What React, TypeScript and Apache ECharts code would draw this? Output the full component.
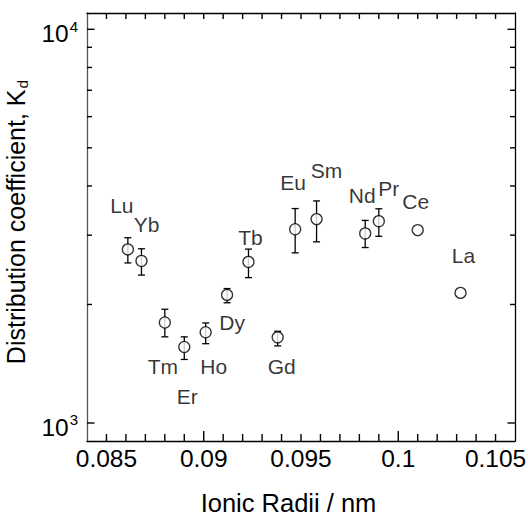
import React, { useEffect, useRef } from "react";
import * as echarts from "echarts";

// ---- data ----
const elements = ["Lu", "Yb", "Tm", "Er", "Ho", "Dy", "Tb", "Gd", "Eu", "Sm", "Nd", "Pr", "Ce", "La"];
const ionicRadii = [0.0861, 0.0868, 0.088, 0.089, 0.0901, 0.0912, 0.0923, 0.0938, 0.0947, 0.0958, 0.0983, 0.099, 0.101, 0.1032];
const kd = [2760, 2580, 1800, 1560, 1700, 2115, 2565, 1650, 3105, 3295, 3030, 3255, 3090, 2140];
const kdLow: (number | null)[] = [2550, 2375, 1655, 1450, 1590, 2020, 2340, 1570, 2705, 2885, 2790, 2980, null, null];
const kdHigh: (number | null)[] = [2955, 2770, 1945, 1655, 1795, 2195, 2765, 1710, 3505, 3665, 3270, 3500, null, null];

const xLabelValues = [0.085, 0.09, 0.095, 0.1, 0.105];
const xMajorTickValues = [0.09, 0.1];
const yLabelValues = [1000, 10000];
const yMinorTickValues = [2000, 3000, 4000, 5000, 6000, 7000, 8000, 9000];

// ---- layout (label offsets in px relative to each marker) ----
const labelOffsets: [number, number][] = [
  [-6, -44], [5, -36], [-2, 44], [3, 50], [8, 34], [5, 28], [2, -24],
  [4, 29], [-2, -47], [10, -49], [-3, -38], [10, -33], [-2, -29], [3, -37],
];

const FONT = "'Liberation Sans', Arial, sans-serif";
const X_MIN = 0.084;
const X_MAX = 0.106;
const Y_MIN = 900;
const Y_MAX = 11000;
const xMinorTicks = Array.from({ length: 21 }, (_, i) => +(X_MIN + (i + 1) * 0.001).toFixed(3));

export default function App() {
  const ref = useRef<HTMLDivElement>(null);
  useEffect(() => {
    if (!ref.current) return;
    const chart = echarts.init(ref.current, undefined, { renderer: "svg" });

    const scatterData = elements.map((name, i) => ({
      name,
      value: [ionicRadii[i], kd[i]],
      label: { offset: labelOffsets[i] },
    }));
    const errData = elements
      .map((_, i) => (kdLow[i] != null ? [ionicRadii[i], kdLow[i], kdHigh[i]] : null))
      .filter((d) => d != null);

    chart.setOption({
      animation: false,
      backgroundColor: "#fff",
      textStyle: { fontFamily: FONT },
      grid: { left: 87, right: 13, top: 13, bottom: 75, containLabel: false, outerBoundsMode: "none" },
      xAxis: [
        {
          type: "value",
          min: X_MIN,
          max: X_MAX,
          position: "bottom",
          splitLine: { show: false },
          axisLine: { show: true, lineStyle: { color: "#000", width: 1.3 } },
          axisTick: { show: false },
          axisLabel: {
            show: true,
            customValues: xLabelValues,
            formatter: (v: number) => String(parseFloat(v.toFixed(4))),
            fontSize: 24.5,
            color: "#000",
            margin: 5,
            fontFamily: FONT,
          },
          name: "Ionic Radii / nm",
          nameLocation: "middle",
          nameGap: 49,
          nameTextStyle: { fontSize: 25.5, color: "#000", fontFamily: FONT, padding: [0, 25, 0, 0] },
        },
        {
          type: "value",
          min: X_MIN,
          max: X_MAX,
          position: "top",
          splitLine: { show: false },
          axisLine: { show: true, lineStyle: { color: "#000", width: 1.3 } },
          axisTick: { show: false },
          axisLabel: { show: false },
        },
      ],
      yAxis: [
        {
          type: "log",
          logBase: 10,
          min: Y_MIN,
          max: Y_MAX,
          position: "left",
          splitLine: { show: false },
          axisLine: { show: true, lineStyle: { color: "#555", width: 1.3 } },
          axisTick: { show: false },
          axisLabel: {
            show: true,
            customValues: yLabelValues,
            margin: 9,
            formatter: (v: number) => `{b|10}{sup|${Math.round(Math.log10(v))}}`,
            rich: {
              b: { fontSize: 24.5, color: "#000", fontFamily: FONT, padding: [9, 0, 0, 0] },
              sup: { fontSize: 15, color: "#000", fontFamily: FONT, padding: [0, 0, 6, 1] },
            },
          },
          name: "Distribution coefficient, K{sub|d}",
          nameLocation: "middle",
          nameGap: 47,
          nameRotate: 90,
          nameTextStyle: {
            fontSize: 25,
            color: "#000",
            fontFamily: FONT,
            padding: [0, 0, 0, 10],
            rich: {
              sub: { fontSize: 15.5, color: "#000", fontFamily: FONT, padding: [14, 0, 0, 1] },
            },
          },
        },
        {
          type: "log",
          logBase: 10,
          min: Y_MIN,
          max: Y_MAX,
          position: "right",
          splitLine: { show: false },
          axisLine: { show: true, lineStyle: { color: "#000", width: 1.3 } },
          axisTick: { show: false },
          axisLabel: { show: false },
        },
      ],
      series: [
        {
          type: "custom",
          xAxisIndex: 0,
          yAxisIndex: 0,
          data: errData,
          renderItem: (params: any, api: any) => {
            const x = api.value(0);
            const lo = api.coord([x, api.value(1)]);
            const hi = api.coord([x, api.value(2)]);
            const w = 3.5;
            const style = { stroke: "#000", lineWidth: 1.3 };
            return {
              type: "group",
              children: [
                { type: "line", shape: { x1: lo[0], y1: lo[1], x2: hi[0], y2: hi[1] }, style },
                { type: "line", shape: { x1: lo[0] - w, y1: lo[1], x2: lo[0] + w, y2: lo[1] }, style },
                { type: "line", shape: { x1: hi[0] - w, y1: hi[1], x2: hi[0] + w, y2: hi[1] }, style },
              ],
            };
          },
        },
        {
          type: "scatter",
          xAxisIndex: 0,
          yAxisIndex: 0,
          z: 3,
          symbol: "circle",
          symbolSize: 11,
          itemStyle: { color: "#fff", borderColor: "#000", borderWidth: 1.3 },
          label: {
            show: true,
            position: "inside",
            formatter: "{b}",
            fontSize: 21,
            color: "#000",
            fontFamily: FONT,
          },
          emphasis: { disabled: true },
          data: scatterData,
        },
      ],
    });

    // axis ticks, placed through the axes' own scales
    const toX = (v: number) => Number(chart.convertToPixel({ xAxisIndex: 0 }, v));
    const toY = (v: number) => Number(chart.convertToPixel({ yAxisIndex: 0 }, v));
    const left = toX(X_MIN);
    const right = toX(X_MAX);
    const top = toY(Y_MAX);
    const bottom = toY(Y_MIN);
    const lines: any[] = [];
    const seg = (x1: number, y1: number, x2: number, y2: number) =>
      lines.push({
        type: "polyline",
        silent: true,
        z: 100,
        shape: { points: [[x1, y1], [x2, y2]] },
        style: { stroke: "#000", lineWidth: 1.4, fill: "none" },
      });
    xMinorTicks.forEach((v) => {
      const px = toX(v);
      const len = xMajorTickValues.includes(v) ? 10 : 7;
      seg(px, bottom, px, bottom - len);
      seg(px, top, px, top + 6);
    });
    [...yMinorTickValues, ...yLabelValues].forEach((v) => {
      const py = toY(v);
      const len = yLabelValues.includes(v) ? 7.5 : 5;
      seg(left, py, left + len, py);
      seg(right, py, right - len, py);
    });
    chart.setOption({ graphic: { elements: lines } });

    return () => chart.dispose();
  }, []);
  return <div ref={ref} style={{ width: 528, height: 516, position: "absolute", left: 0, top: 0 }} />;
}
